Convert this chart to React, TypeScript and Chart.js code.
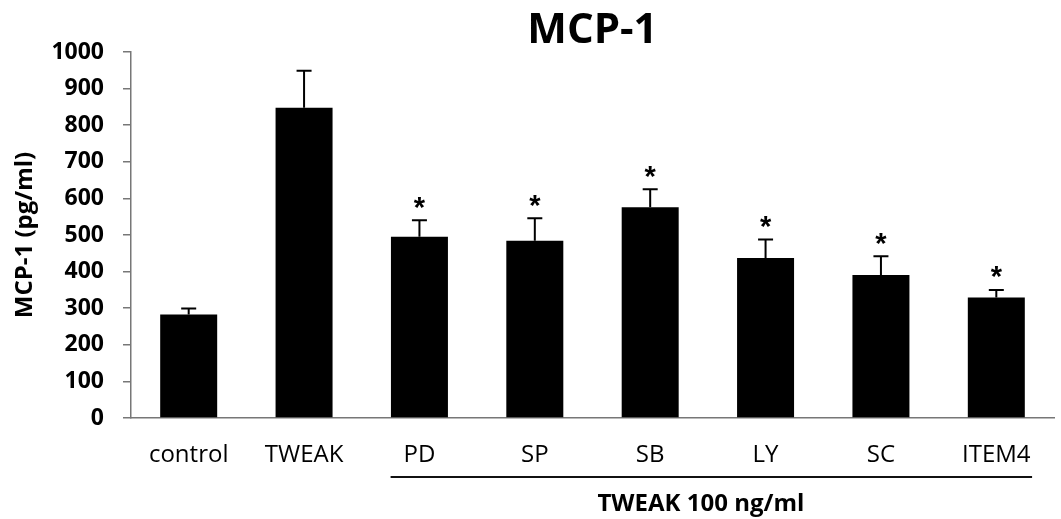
import React, { useEffect, useRef } from "react";
import { Chart, registerables } from "chart.js";

Chart.register(...registerables);

const categories = ["control", "TWEAK", "PD", "SP", "SB", "LY", "SC", "ITEM4"];
const means = [283, 848, 495, 484, 576, 437, 391, 329];
const errors = [16, 101, 45, 62, 49, 51, 51, 21];
const marks = ["", "", "*", "*", "*", "*", "*", "*"];
const yTicks = [0, 100, 200, 300, 400, 500, 600, 700, 800, 900, 1000];
const titleText = "MCP-1";
const yTitle = "MCP-1 (pg/ml)";
const groupLabel = "TWEAK 100 ng/ml";
const groupFrom = 2;
const groupTo = 7;

const FONT = "'Open Sans', 'DejaVu Sans', sans-serif";

const errorPlugin = {
  id: "errorBarsAndMarks",
  afterDatasetsDraw(chart: any) {
    const ctx = chart.ctx;
    const y = chart.scales.y;
    const x = chart.scales.x;
    const meta = chart.getDatasetMeta(0);
    ctx.save();
    ctx.strokeStyle = "#000";
    ctx.fillStyle = "#000";
    ctx.lineWidth = 2;
    meta.data.forEach((bar: any, i: number) => {
      const top = y.getPixelForValue(means[i]);
      const end = y.getPixelForValue(means[i] + errors[i]);
      ctx.beginPath();
      ctx.moveTo(bar.x, top);
      ctx.lineTo(bar.x, end);
      ctx.moveTo(bar.x - 7.5, end);
      ctx.lineTo(bar.x + 7.5, end);
      ctx.stroke();
      if (marks[i]) {
        ctx.font = `bold 29px 'Liberation Sans', sans-serif`;
        ctx.textAlign = "center";
        ctx.textBaseline = "alphabetic";
        const m = ctx.measureText(marks[i]);
        const asc = m.actualBoundingBoxAscent;
        const desc = m.actualBoundingBoxDescent;
        const cy = end - 17.5;
        ctx.fillText(marks[i], bar.x, cy + (asc - desc) / 2);
      }
    });
    const step = x.getPixelForValue(1) - x.getPixelForValue(0);
    const left = x.getPixelForValue(groupFrom) - step * 0.25;
    const right = x.getPixelForValue(groupTo) + step * 0.31;
    const lineY = chart.chartArea.bottom + 59;
    ctx.lineWidth = 2;
    ctx.strokeStyle = "#111";
    ctx.beginPath();
    ctx.moveTo(left, lineY);
    ctx.lineTo(right, lineY);
    ctx.stroke();
    ctx.font = `bold 24px ${FONT}`;
    ctx.textAlign = "center";
    ctx.textBaseline = "middle";
    const cx = (x.getPixelForValue(groupFrom) + x.getPixelForValue(groupTo)) / 2 - 7;
    ctx.fillText(groupLabel, cx, chart.chartArea.bottom + 86);
    ctx.restore();
  },
};

export default function App() {
  const ref = useRef<HTMLCanvasElement>(null);
  useEffect(() => {
    const chart = new Chart(ref.current as HTMLCanvasElement, {
      type: "bar",
      data: {
        labels: categories,
        datasets: [
          {
            data: means,
            backgroundColor: "#000",
            borderWidth: 0,
            barPercentage: 0.494,
            categoryPercentage: 1,
          },
        ],
      },
      options: {
        responsive: false,
        animation: false,
        devicePixelRatio: 1,
        layout: { padding: { left: 0, right: 7, top: 0, bottom: 0 } },
        plugins: {
          legend: { display: false },
          tooltip: { enabled: false },
          title: {
            display: true,
            text: titleText,
            fullSize: false,
            color: "#000",
            font: { family: FONT, size: 42, weight: "bold", lineHeight: 1 },
            padding: { top: 10, bottom: 0 },
          },
        },
        scales: {
          x: {
            grid: { display: false, drawTicks: false },
            border: { display: true, color: "#777", width: 1.5 },
            ticks: {
              color: "#000",
              padding: 23,
              font: { family: FONT, size: 24 },
              maxRotation: 0,
              autoSkip: false,
            },
            afterFit: (s: any) => {
              s.height = 101;
            },
          },
          y: {
            min: 0,
            max: 1000,
            afterBuildTicks: (s: any) => {
              s.ticks = yTicks.map((v) => ({ value: v }));
            },
            grid: {
              drawOnChartArea: false,
              drawTicks: true,
              tickLength: 8,
              color: "#777",
              lineWidth: 1.5,
            },
            border: { display: true, color: "#777", width: 1.5 },
            ticks: {
              color: "#000",
              padding: 19,
              font: { family: FONT, size: 23, weight: "bold" },
              callback: (v: any) => String(v),
            },
            title: {
              display: true,
              text: yTitle,
              color: "#000",
              font: { family: FONT, size: 24, weight: "bold" },
              padding: { top: 11, bottom: 0 },
            },
            afterFit: (s: any) => {
              s.width = 131;
            },
          },
        },
      },
      plugins: [errorPlugin],
    });
    return () => chart.destroy();
  }, []);
  return (
    <div style={{ position: "absolute", left: 0, top: 0, width: 1061, height: 519, background: "#fff" }}>
      <canvas ref={ref} width={1061} height={519} />
    </div>
  );
}
